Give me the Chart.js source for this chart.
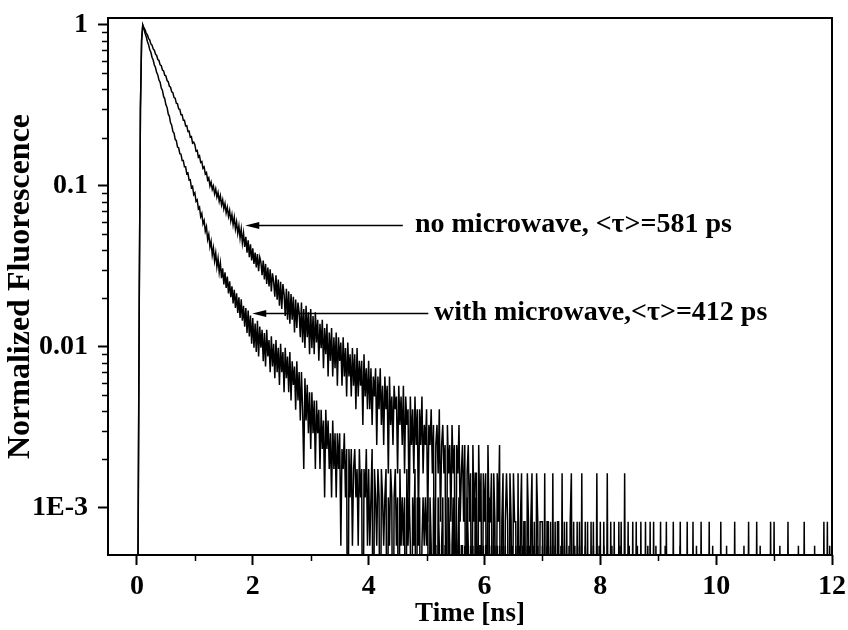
<!DOCTYPE html>
<html>
<head>
<meta charset="utf-8">
<script src="https://cdn.jsdelivr.net/npm/chart.js@4.4.1/dist/chart.umd.min.js"></script>
<style>
  html, body { margin: 0; padding: 0; background: #fff; }
</style>
</head>
<body>
<canvas id="decay" width="848" height="630"></canvas>
<script>
'use strict';

// TCSPC channels: time of the first channel and channel width, in ns
var firstChannel = 0;
var channelWidth = 0.02;

// photon counts per channel (one row = 1 ns)
var countsNoMicrowave = [
    0, 1, 25, 370, 980, 1220, 1170, 1140, 1085, 1060, 1008, 985, 930, 915, 866, 850, 803, 789, 745, 734,
    690, 681, 641, 633, 595, 588, 551, 542, 508, 501, 469, 463, 432, 428, 398, 395, 367, 365, 338, 338,
    312, 312, 288, 289, 266, 267, 245, 247, 225, 228,
    220, 201, 203, 184, 188, 171, 173, 157, 160, 145, 148, 133, 137, 122, 129, 116, 122, 109, 117, 104,
    111, 98, 106, 93, 100, 88, 95, 83, 90, 79, 86, 74, 81, 70, 78, 66, 73, 62, 69, 58,
    66, 54, 62, 51, 59, 47, 56, 44, 53, 42,
    50, 40, 47, 38, 46, 36, 44, 41, 34, 42, 32, 40, 30, 38, 29, 37, 27, 35, 31, 25,
    34, 24, 32, 22, 31, 21, 30, 26, 19, 28, 18, 27, 17, 26, 18, 25, 15, 24, 16, 23,
    20, 14, 23, 13, 21, 12, 22, 14, 20, 11,
    21, 12, 19, 11, 20, 13, 18, 10, 17, 12, 18, 9, 16, 11, 17, 8, 15, 10, 16, 8,
    14, 9, 15, 7, 14, 10, 13, 7, 14, 8, 12, 6, 13, 8, 11, 6, 12, 7, 11, 5,
    12, 6, 10, 7, 10, 4, 11, 6, 9, 5,
    10, 5, 9, 4, 8, 6, 9, 3, 8, 5, 9, 4, 7, 3, 8, 5, 7, 2, 8, 4,
    6, 3, 7, 5, 6, 2, 7, 4, 6, 3, 7, 2, 6, 4, 5, 1, 6, 3, 5, 2,
    6, 3, 5, 1, 5, 3, 6, 2, 4, 3,
    5, 1, 4, 3, 5, 2, 4, 0, 3, 4, 2, 5, 1, 3, 4, 2, 3, 0, 4, 2,
    3, 1, 4, 2, 3, 0, 3, 2, 4, 1, 2, 3, 1, 3, 0, 2, 3, 1, 2, 0,
    3, 1, 2, 2, 0, 3, 1, 2, 0, 2,
    1, 2, 0, 3, 1, 1, 2, 0, 2, 1, 0, 2, 1, 3, 0, 1, 2, 0, 1, 2,
    1, 0, 2, 1, 0, 2, 1, 1, 0, 2, 0, 1, 2, 0, 1, 1, 0, 2, 1, 0,
    1, 2, 0, 1, 0, 2, 1, 0, 1, 1,
    1, 0, 2, 0, 1, 1, 0, 1, 0, 2, 0, 1, 0, 1, 1, 0, 0, 2, 0, 1,
    0, 1, 0, 0, 1, 2, 0, 1, 0, 0, 1, 0, 1, 0, 2, 0, 0, 1, 0, 1,
    0, 0, 1, 0, 1, 0, 0, 2, 0, 0,
    1, 0, 0, 1, 0, 0, 2, 0, 0, 1, 0, 0, 1, 0, 0, 0, 1, 0, 1, 0,
    0, 2, 0, 0, 1, 0, 0, 0, 1, 0, 0, 1, 0, 0, 0, 1, 0, 0, 0, 1,
    0, 0, 0, 1, 0, 0, 1, 0, 0, 0,
    0, 0, 1, 0, 0, 0, 0, 1, 0, 0, 0, 0, 0, 1, 0, 0, 0, 0, 0, 1,
    0, 0, 0, 0, 0, 1, 0, 0, 0, 0, 1, 0, 0, 0, 0, 0, 0, 1, 0, 0,
    0, 0, 0, 0, 1, 0, 0, 0, 0, 0,
    0, 0, 0, 0, 1, 0, 0, 0, 0, 0, 0, 0, 0, 0, 0, 0, 1, 0, 0, 0,
    0, 0, 0, 0, 0, 0, 0, 0, 1, 0, 0, 0, 0, 0, 0, 1, 0, 0, 0, 0,
    0, 0, 0, 0, 0, 0, 0, 1, 0, 0,
    1, 0, 0, 0, 0, 0, 0, 0, 0, 0, 0, 0, 1, 0, 0, 0, 0, 0, 0, 0,
    0, 0, 0, 0, 0, 0, 1, 0, 0, 0, 0, 0, 0, 0, 0, 0, 0, 0, 0, 0,
    0, 0, 0, 1, 0, 0, 1, 0, 0, 0,
    0
];
var countsWithMicrowave = [
    0, 1, 35, 520, 1380, 1720, 1630, 1525, 1455, 1358, 1298, 1212, 1163, 1085, 1042, 970, 936, 871, 842, 782,
    758, 698, 674, 619, 598, 549, 529, 482, 466, 424, 410, 375, 366, 335, 329, 300, 297, 273, 271, 248,
    248, 226, 226, 205, 207, 187, 188, 168, 171, 152,
    156, 138, 141, 124, 127, 111, 116, 100, 105, 90, 96, 80, 86, 72, 78, 64, 71, 59, 66, 54,
    61, 50, 57, 46, 53, 42, 50, 40, 47, 37, 44, 35, 41, 32, 39, 30, 37, 28, 35, 26,
    34, 25, 31, 23, 30, 21, 29, 20, 27, 18,
    26, 17, 24, 16, 25, 15, 23, 17, 22, 14, 21, 13, 22, 15, 19, 12, 20, 13, 18, 11,
    19, 12, 17, 10, 18, 12, 16, 9, 17, 11, 15, 9, 16, 8, 14, 10, 13, 7, 14, 8,
    12, 6, 12, 7, 3, 11, 6, 10, 5, 9,
    4, 9, 5, 8, 3, 8, 5, 7, 3, 7, 4, 6, 2, 7, 4, 6, 3, 5, 2, 6,
    3, 5, 2, 5, 3, 5, 1, 4, 3, 5, 2, 4, 0, 4, 2, 4, 1, 3, 4, 2,
    3, 1, 4, 2, 3, 0, 3, 2, 4, 1,
    3, 1, 2, 4, 0, 3, 2, 1, 3, 2, 0, 3, 2, 1, 2, 3, 0, 2, 1, 3,
    2, 0, 2, 3, 1, 2, 0, 3, 1, 2, 1, 2, 0, 3, 1, 2, 1, 0, 2, 1,
    3, 0, 2, 1, 2, 0, 1, 2, 1, 2,
    1, 2, 0, 2, 1, 0, 2, 1, 1, 0, 2, 1, 0, 1, 2, 0, 1, 1, 0, 2,
    1, 0, 1, 2, 0, 1, 0, 1, 2, 0, 1, 1, 0, 1, 0, 2, 1, 0, 1, 0,
    1, 0, 2, 0, 1, 0, 1, 1, 0, 1,
    0, 1, 1, 0, 2, 0, 1, 0, 0, 1, 0, 1, 0, 1, 0, 0, 1, 0, 1, 0,
    0, 0, 1, 0, 1, 0, 0, 1, 0, 0, 1, 0, 0, 1, 0, 0, 0, 1, 0, 1,
    0, 0, 1, 0, 0, 0, 1, 0, 0, 0,
    1, 0, 0, 0, 1, 0, 0, 1, 0, 0, 0, 1, 0, 0, 0, 0, 1, 0, 0, 1,
    0, 0, 0, 1, 0, 0, 0, 0, 1, 0, 0, 0, 1, 0, 0, 0, 0, 1, 0, 0,
    0, 0, 0, 0, 1, 0, 0, 0, 0, 1,
    0, 0, 0, 1, 0, 0, 0, 0, 0, 0, 1, 0, 0, 0, 0, 0, 0, 1, 0, 0,
    0, 0, 0, 0, 0, 1, 0, 0, 0, 0, 0, 0, 1, 0, 0, 0, 0, 0, 0, 0,
    0, 1, 0, 0, 0, 0, 0, 0, 1, 0,
    0, 0, 0, 0, 0, 0, 1, 0, 0, 0, 0, 0, 0, 0, 0, 0, 0, 0, 0, 1,
    0, 0, 0, 0, 0, 0, 0, 0, 0, 0, 0, 0, 0, 1, 0, 0, 0, 0, 0, 0,
    0, 0, 0, 0, 0, 0, 0, 1, 0, 0,
    0, 0, 0, 0, 0, 0, 0, 0, 0, 1, 0, 0, 0, 0, 0, 0, 0, 0, 0, 0,
    0, 0, 0, 0, 1, 0, 0, 0, 0, 0, 0, 0, 0, 0, 0, 0, 0, 0, 1, 0,
    0, 0, 0, 0, 0, 0, 0, 0, 0, 0,
    0, 0, 0, 0, 0, 1, 0, 0, 0, 0, 0, 0, 0, 0, 0, 0, 0, 0, 0, 0,
    0, 1, 0, 0, 0, 0, 0, 0, 0, 0, 0, 0, 0, 0, 0, 1, 0, 0, 0, 0,
    0, 0, 0, 0, 0, 0, 0, 0, 1, 0,
    0
];

// counts at the peak channel, used to normalise each trace
var peakNoMicrowave = 1220;
var peakWithMicrowave = 1720;
// empty channels cannot sit on a log axis, they are put below its floor
var emptyChannel = 0.05;

// axes
var xMajorTicks = [0, 2, 4, 6, 8, 10, 12];
var xMinorTicks = [1, 3, 5, 7, 9, 11];
var yMajorTicks = [0.001, 0.01, 0.1, 1];
var yMajorLabels = ['1E-3', '0.01', '0.1', '1'];
var yMinorSteps = [2, 3, 4, 5, 6, 7, 8, 9];

// arrows and their texts (time in ns, level in normalized units)
var notes = [
    { text: 'no microwave, <\u03c4>=581 ps', tip: 1.87, tail: 4.59, textAt: 4.80, level: 0.0573 },
    { text: 'with microwave,<\u03c4>=412 ps', tip: 1.99, tail: 5.03, textAt: 5.13, level: 0.01626 }
];

var serif = '"Liberation Serif", "Times New Roman", serif';

function toPoints(counts, peak) {
    return counts.map(function (c, i) {
        var t = Math.round((firstChannel + i * channelWidth) * 100) / 100;
        return { x: t, y: Math.max(c, emptyChannel) / peak };
    });
}

// frame, minor ticks and the two labelled arrows
var decorations = {
    id: 'decorations',
    afterDraw: function (chart) {
        var ctx = chart.ctx;
        var a = chart.chartArea;
        var x = chart.scales.x;
        var y = chart.scales.y;

        ctx.save();
        ctx.strokeStyle = '#000';
        ctx.lineWidth = 2;
        ctx.strokeRect(a.left, a.top, a.right - a.left, a.bottom - a.top);

        ctx.lineWidth = 1.5;
        ctx.beginPath();
        yMajorTicks.forEach(function (dec) {
            yMinorSteps.forEach(function (m) {
                var v = dec * m;
                if (v > y.min && v < y.max) {
                    var py = Math.round(y.getPixelForValue(v)) + 0.5;
                    ctx.moveTo(a.left - 6, py);
                    ctx.lineTo(a.left, py);
                }
            });
        });
        xMinorTicks.forEach(function (v) {
            var px = Math.round(x.getPixelForValue(v)) + 0.5;
            ctx.moveTo(px, a.bottom);
            ctx.lineTo(px, a.bottom + 6);
        });
        ctx.stroke();

        ctx.font = 'bold 28px ' + serif;
        ctx.textBaseline = 'middle';
        ctx.textAlign = 'left';
        ctx.fillStyle = '#000';
        notes.forEach(function (n) {
            var py = Math.round(y.getPixelForValue(n.level)) + 0.5;
            var tipX = x.getPixelForValue(n.tip);
            ctx.lineWidth = 1.5;
            ctx.beginPath();
            ctx.moveTo(tipX + 10, py);
            ctx.lineTo(x.getPixelForValue(n.tail), py);
            ctx.stroke();
            ctx.beginPath();
            ctx.moveTo(tipX, py);
            ctx.lineTo(tipX + 14, py - 3.5);
            ctx.lineTo(tipX + 14, py + 3.5);
            ctx.closePath();
            ctx.fill();
            ctx.fillText(n.text, x.getPixelForValue(n.textAt), py - 1);
        });
        ctx.restore();
    }
};

var tickFont = { family: serif, size: 28, weight: 'bold' };

new Chart(document.getElementById('decay').getContext('2d'), {
    type: 'line',
    data: {
        datasets: [
            {
                label: 'no microwave',
                data: toPoints(countsNoMicrowave, peakNoMicrowave),
                borderColor: '#000',
                borderWidth: 1.5,
                pointRadius: 0,
                tension: 0
            },
            {
                label: 'with microwave',
                data: toPoints(countsWithMicrowave, peakWithMicrowave),
                borderColor: '#000',
                borderWidth: 1.5,
                pointRadius: 0,
                tension: 0
            }
        ]
    },
    options: {
        responsive: false,
        animation: false,
        devicePixelRatio: 1,
        layout: { padding: { top: 18, right: 16, left: 0, bottom: 0 } },
        plugins: { legend: { display: false }, tooltip: { enabled: false } },
        scales: {
            x: {
                type: 'linear',
                min: -0.5,
                max: 12,
                afterBuildTicks: function (scale) {
                    scale.ticks = xMajorTicks.map(function (v) { return { value: v }; });
                },
                afterFit: function (scale) {
                    scale.height = 75;
                    scale.paddingLeft = 0;
                    scale.paddingRight = 0;
                },
                border: { display: false },
                grid: { drawOnChartArea: false, tickLength: 10, tickWidth: 2, tickColor: '#000' },
                ticks: {
                    color: '#000', font: tickFont, padding: 5, maxRotation: 0, autoSkip: false,
                    callback: function (v) { return String(v); }
                },
                title: {
                    display: true, text: 'Time [ns]', color: '#000',
                    font: { family: serif, size: 27, weight: 'bold' },
                    padding: { top: 0, bottom: 0 }
                }
            },
            y: {
                type: 'logarithmic',
                min: 5.1e-4,
                max: 1.105,
                afterBuildTicks: function (scale) {
                    scale.ticks = yMajorTicks.map(function (v) { return { value: v }; });
                },
                afterFit: function (scale) {
                    scale.width = 108;
                    scale.paddingTop = 0;
                    scale.paddingBottom = 0;
                },
                border: { display: false },
                grid: { drawOnChartArea: false, tickLength: 10, tickWidth: 2, tickColor: '#000' },
                ticks: {
                    color: '#000', font: tickFont, padding: 10, autoSkip: false,
                    callback: function (v) {
                        for (var i = 0; i < yMajorTicks.length; i++) {
                            if (Math.abs(v / yMajorTicks[i] - 1) < 1e-6) return yMajorLabels[i];
                        }
                        return '';
                    }
                },
                title: {
                    display: true, text: 'Normalized Fluorescence', color: '#000',
                    font: { family: serif, size: 32, weight: 'bold' },
                    padding: { top: 2, bottom: 0 }
                }
            }
        }
    },
    plugins: [decorations]
});
</script>
</body>
</html>
